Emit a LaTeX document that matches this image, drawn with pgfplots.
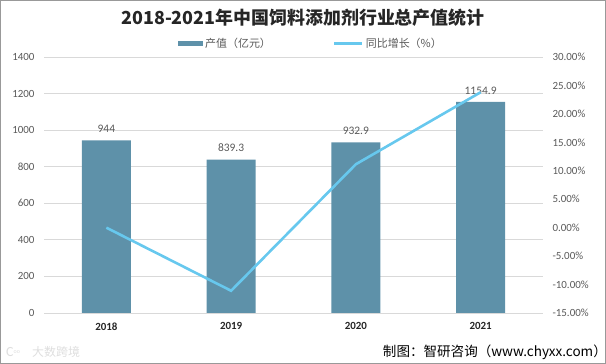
\documentclass[border=0pt]{standalone}
\usepackage{pgfplots}
\pgfplotsset{compat=1.18}
\usepackage{fontspec}
\setmainfont{Carlito}
\newfontfamily\cjk{Noto Sans CJK SC}
\definecolor{barc}{HTML}{5E91A9}
\definecolor{linec}{HTML}{67C8EE}
\definecolor{gridc}{HTML}{D9D9D9}
\definecolor{tickc}{HTML}{595959}
\begin{document}
\begin{tikzpicture}
\path[use as bounding box] (0bp,0bp) rectangle (606bp,364bp);
\draw[color=black!40, line width=1bp] (0.5bp,0.5bp) rectangle (605.5bp,363.5bp);
\node[font=\cjk\bfseries\fontsize{18}{20}\selectfont, text=black!85] at (303bp,346bp) {2018-2021年中国饲料添加剂行业总产值统计};
\node[anchor=east, inner sep=0pt, font=\cjk\fontsize{13.6}{15}\selectfont, text=black] at (607bp,12bp) {制图：智研咨询（www.chyxx.com）};
\node[anchor=west, inner sep=0pt, font=\cjk\fontsize{12}{13}\selectfont, text=black!13] at (32bp,12bp) {大数跨境};
\node[anchor=west, inner sep=0pt, font=\fontsize{14}{14}\selectfont, text=black!13] at (6bp,12bp) {C\raisebox{3bp}{\fontsize{6}{6}\selectfont oo}};
\begin{axis}[
  at={(44bp,51bp)}, anchor=south west, width=499bp, height=256bp, scale only axis,
  xmin=-0.5, xmax=3.5, ymin=0, ymax=1400, ytick={0,200,...,1400},
  xtick={0,1,2,3}, xticklabels={2018,2019,2020,2021},
  ybar, bar width=49bp,
  /pgf/number format/assume math mode=true,
  /pgf/number format/1000 sep={},
  x tick label style={font=\bfseries\fontsize{11}{13}\selectfont, text=black!85},
  y tick label style={font=\fontsize{11}{13}\selectfont, text=tickc},
  xticklabel shift=6bp, yticklabel shift=6bp,
  ymajorgrids, grid style={gridc, line width=0.8bp},
  axis line style={draw=none}, major tick length=0,
  nodes near coords,
  nodes near coords style={font=\fontsize{11.5}{13}\selectfont, text=tickc, yshift=4bp},
  legend columns=2,
  legend style={at={(0.535,1)}, anchor=center, yshift=13bp, draw=none, fill=none,
    font=\cjk\fontsize{11}{13}\selectfont, text=tickc,
    /tikz/every even column/.append style={column sep=60bp}},
]
\addplot[fill=barc, draw=none,
  legend image code/.code={\fill[barc] (0bp,-2.5bp) rectangle (25bp,2.5bp);}]
  coordinates {(0,944) (1,839.3) (2,932.9) (3,1154.9)};
\addlegendentry{产值（亿元）}
\addlegendimage{legend image code/.code={\draw[linec, line width=3bp] (0bp,0bp) -- (28bp,0bp);}}
\addlegendentry{同比增长（\%）}
\end{axis}
\begin{axis}[
  at={(44bp,51bp)}, anchor=south west, width=499bp, height=256bp, scale only axis,
  xmin=-0.5, xmax=3.5, ymin=-15, ymax=30, ytick={-15,-10,...,30},
  yticklabels={-15.00\%,-10.00\%,-5.00\%,0.00\%,5.00\%,10.00\%,15.00\%,20.00\%,25.00\%,30.00\%},
  axis y line*=right, axis x line=none,
  y tick label style={font=\fontsize{11}{13}\selectfont, text=tickc},
  yticklabel shift=6bp,
  axis line style={draw=none}, major tick length=0,
]
\addplot[linec, line width=2.6bp, no marks] coordinates {(0,0) (1,-11.09) (2,11.15) (3,23.80)};
\end{axis}
\end{tikzpicture}
\end{document}
